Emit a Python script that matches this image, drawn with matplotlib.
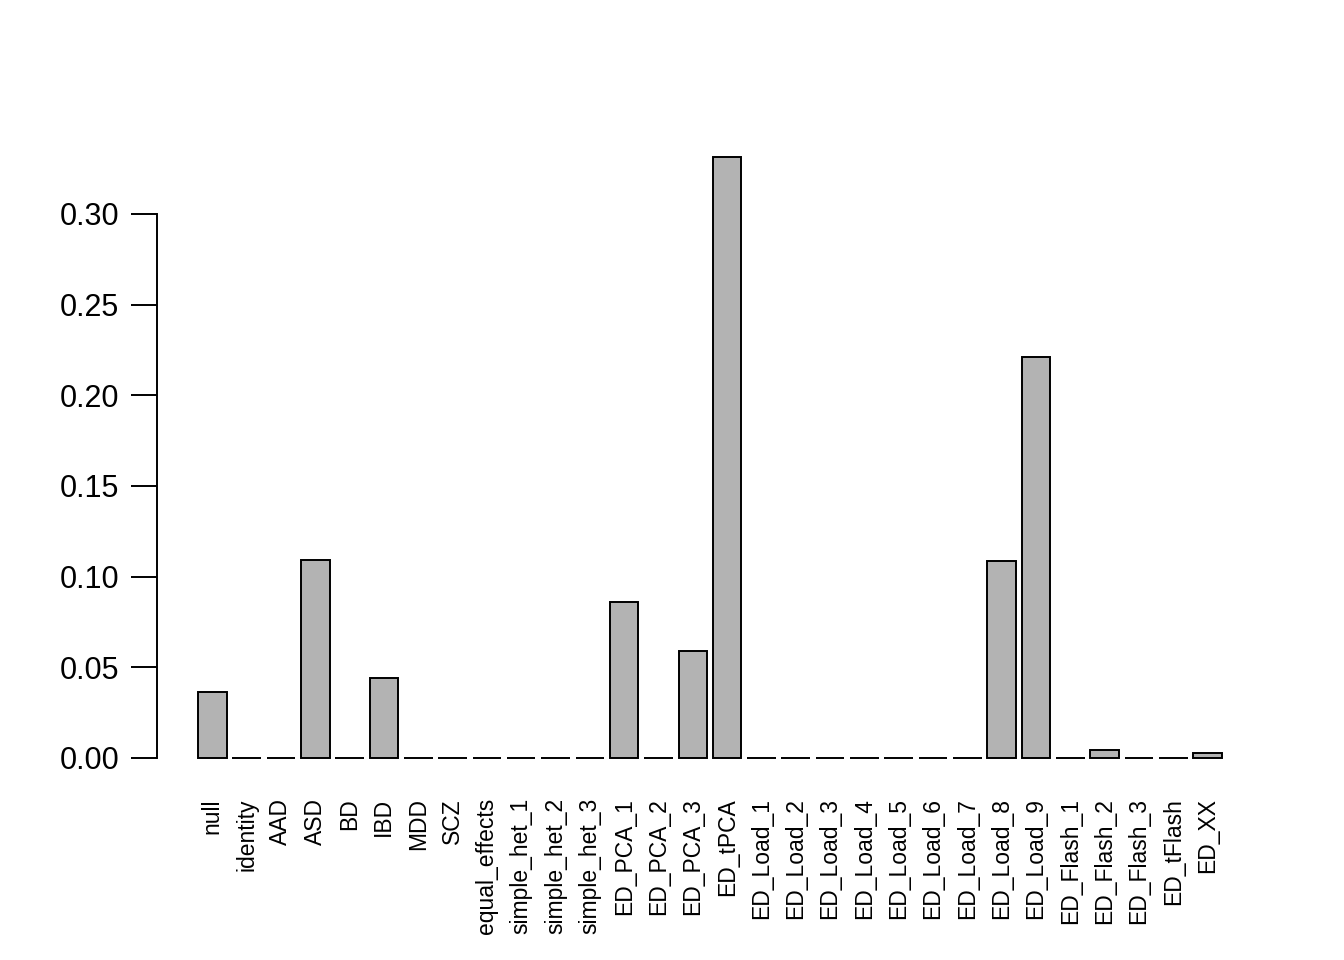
import matplotlib
matplotlib.use("Agg")
import matplotlib.pyplot as plt
import numpy as np

plt.rcParams["font.family"] = ["Liberation Sans", "DejaVu Sans"]

# bar labels and heights
labels = [
    "null", "identity", "AAD", "ASD", "BD", "IBD", "MDD", "SCZ",
    "equal_effects", "simple_het_1", "simple_het_2", "simple_het_3",
    "ED_PCA_1", "ED_PCA_2", "ED_PCA_3", "ED_tPCA",
    "ED_Load_1", "ED_Load_2", "ED_Load_3", "ED_Load_4", "ED_Load_5",
    "ED_Load_6", "ED_Load_7", "ED_Load_8", "ED_Load_9",
    "ED_Flash_1", "ED_Flash_2", "ED_Flash_3", "ED_tFlash", "ED_XX",
]
values = [
    0.0364, 0.0, 0.0, 0.1092, 0.0, 0.0441, 0.0, 0.0,
    0.0, 0.0, 0.0, 0.0,
    0.0860, 0.0, 0.0590, 0.3314,
    0.0, 0.0, 0.0, 0.0, 0.0,
    0.0, 0.0, 0.1086, 0.2211,
    0.0, 0.0044, 0.0, 0.0, 0.0028,
]
yticks = [0.00, 0.05, 0.10, 0.15, 0.20, 0.25, 0.30]

# R barplot layout: width 1, space 0.2
n = len(values)
lefts = 0.2 + 1.2 * np.arange(n)
centers = lefts + 0.5

fig = plt.figure(figsize=(13.44, 9.6), dpi=100)
ax = fig.add_axes([0.1168, 0.1854, 0.8229, 0.6761])

ax.bar(centers, values, width=1.0, color="#b3b3b3", edgecolor="black", linewidth=1.4)

x0, x1 = lefts[0], lefts[-1] + 1.0
pad_x = 0.04 * (x1 - x0)
ax.set_xlim(x0 - pad_x, x1 + pad_x)
ymax = max(values)
ax.set_ylim(-0.04 * ymax, ymax * 1.04)

for s in ["top", "right", "bottom"]:
    ax.spines[s].set_visible(False)
ax.spines["left"].set_bounds(0, 0.30)
ax.spines["left"].set_linewidth(1.4)

ax.set_yticks(yticks)
ax.set_yticklabels([f"{t:.2f}" for t in yticks], fontsize=22)
ax.tick_params(axis="y", length=19, width=1.4, pad=8)

ax.set_xticks([])
for c, lab in zip(centers, labels):
    ax.text(c, -0.0222, lab, rotation=90, ha="center", va="top", fontsize=16.5)

fig.savefig("out.png", dpi=100)
